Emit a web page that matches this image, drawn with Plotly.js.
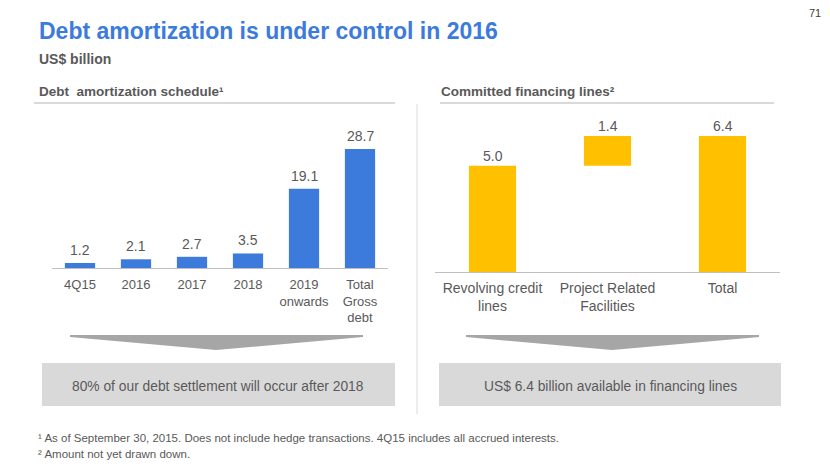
<!DOCTYPE html>
<html>
<head>
<meta charset="utf-8">
<script src="https://cdn.plot.ly/plotly-3.0.1.min.js"></script>
<style>html,body{margin:0;padding:0;background:#fff;}#chart{width:830px;height:467px;}</style>
</head>
<body>
<div id="chart"></div>
<script>
// ---- data ----
const debtCategories = ['4Q15', '2016', '2017', '2018', '2019<br>onwards', 'Total<br>Gross<br>debt'];
const debtValues = [1.2, 2.1, 2.7, 3.5, 19.1, 28.7];

const lineCategories = ['Revolving credit<br>lines', 'Project Related<br>Facilities', 'Total'];
const lineValues = [5.0, 1.4, 6.4];
const lineBases = [0, 5.0, 0];

// ---- helpers (pixel -> paper) ----
const W = 830, H = 467;
const X = px => px / W;
const Y = py => 1 - py / H;

const gray = '#595959';
const font = 'Liberation Sans, Arial, sans-serif';

const traces = [
  {
    type: 'bar', x: debtCategories, y: debtValues, xaxis: 'x', yaxis: 'y',
    width: 0.54,
    marker: {color: '#3C7BDB'}, hoverinfo: 'skip', showlegend: false
  },
  {
    type: 'bar', x: lineCategories, y: lineValues, base: lineBases, xaxis: 'x2', yaxis: 'y2',
    width: 0.41,
    marker: {color: '#FFC000'}, hoverinfo: 'skip', showlegend: false
  }
];

const annotations = [];
function txt(text, px, py, size, color, xanchor, bold) {
  annotations.push({
    xref: 'paper', yref: 'paper', x: X(px), y: Y(py), xanchor: xanchor || 'left', yanchor: 'middle',
    text: bold ? '<b>' + text + '</b>' : text, showarrow: false,
    font: {family: font, size: size, color: color}
  });
}
txt('Debt amortization is under control in 2016', 37, 31, 23, '#3C7BDB', 'left', true);
txt('US$ billion', 37, 59, 14, gray, 'left', true);
txt('Debt  amortization schedule¹', 37, 91, 13.5, gray, 'left', true);
txt('Committed financing lines²', 439, 91, 13.5, gray, 'left', true);
txt('71', 823, 13, 11, '#404040', 'right', false);
txt('80% of our debt settlement will occur after 2018', 218, 386, 13.8, gray, 'center', false);
txt('US$ 6.4 billion available in financing lines', 610, 386, 13.8, gray, 'center', false);
txt('¹ As of September 30, 2015. Does not include hedge transactions. 4Q15 includes all accrued interests.', 36, 438, 11.5, gray, 'left', false);
txt('² Amount not yet drawn down.', 36, 454, 11.5, gray, 'left', false);

debtCategories.forEach((c, i) => {
  annotations.push({
    xref: 'x', yref: 'y', x: i, y: debtValues[i], yanchor: 'bottom', yshift: 3,
    text: debtValues[i].toFixed(1), showarrow: false,
    font: {family: font, size: 14, color: gray}
  });
});
lineCategories.forEach((c, i) => {
  annotations.push({
    xref: 'x2', yref: 'y2', x: i, y: lineBases[i] + lineValues[i], yanchor: 'bottom', yshift: 0,
    text: lineValues[i].toFixed(1), showarrow: false,
    font: {family: font, size: 14, color: gray}
  });
});

function poly(pts, color) {
  return {
    type: 'path', xref: 'paper', yref: 'paper', layer: 'below',
    path: 'M ' + pts.map(p => X(p[0]) + ',' + Y(p[1])).join(' L ') + ' Z',
    fillcolor: color, line: {width: 0}
  };
}
function rect(x0, y0, x1, y1, color) {
  return {type: 'rect', xref: 'paper', yref: 'paper', layer: 'below',
    x0: X(x0), x1: X(x1), y0: Y(y0), y1: Y(y1), fillcolor: color, line: {width: 0}};
}
function line(x0, y0, x1, y1, color, w) {
  return {type: 'line', xref: 'paper', yref: 'paper', layer: 'below',
    x0: X(x0), x1: X(x1), y0: Y(y0), y1: Y(y1), line: {color: color, width: w}};
}

const shapes = [
  line(34, 103, 395, 103, '#D9D9D9', 2),
  line(440, 103, 774, 103, '#D9D9D9', 2),
  line(417, 104, 417, 414, '#D9D9D9', 1),
  poly([[70, 335], [363, 335], [363, 337], [216, 350], [70, 337]], '#A6A6A6'),
  poly([[466, 335], [759, 335], [759, 337], [612, 350], [466, 337]], '#A6A6A6'),
  rect(42, 363, 395, 406, '#D9D9D9'),
  rect(439, 363, 781, 406, '#D9D9D9')
];

const leftScale = 4.15;   // px per unit
const rightScale = 21.25;
const lTop = 120, lBase = 268, rTop = 120, rBase = 272;

const layout = {
  width: W, height: H,
  margin: {l: 0, r: 0, t: 0, b: 0},
  paper_bgcolor: '#fff', plot_bgcolor: 'rgba(0,0,0,0)',
  font: {family: font, color: gray},
  showlegend: false,
  xaxis: {
    domain: [X(52), X(388)], anchor: 'y', type: 'category',
    range: [-0.5, debtCategories.length - 0.5], autorange: false,
    showline: true, linecolor: '#BFBFBF', linewidth: 1, showgrid: false, zeroline: false,
    ticks: '', ticklabelstandoff: 4, tickfont: {family: font, size: 13, color: gray}, fixedrange: true
  },
  yaxis: {
    domain: [Y(lBase), Y(lTop)], anchor: 'x', range: [0, (lBase - lTop) / leftScale], autorange: false,
    visible: false, showgrid: false, zeroline: false, fixedrange: true
  },
  xaxis2: {
    domain: [X(435), X(780)], anchor: 'y2', type: 'category',
    range: [-0.5, lineCategories.length - 0.5], autorange: false,
    showline: true, linecolor: '#BFBFBF', linewidth: 1, showgrid: false, zeroline: false,
    ticks: '', ticklabelstandoff: 3, tickfont: {family: font, size: 14, color: gray}, fixedrange: true
  },
  yaxis2: {
    domain: [Y(rBase), Y(rTop)], anchor: 'x2', range: [0, (rBase - rTop) / rightScale], autorange: false,
    visible: false, showgrid: false, zeroline: false, fixedrange: true
  },
  annotations: annotations,
  shapes: shapes
};

Plotly.newPlot('chart', traces, layout, {displayModeBar: false, staticPlot: true});
</script>
</body>
</html>
